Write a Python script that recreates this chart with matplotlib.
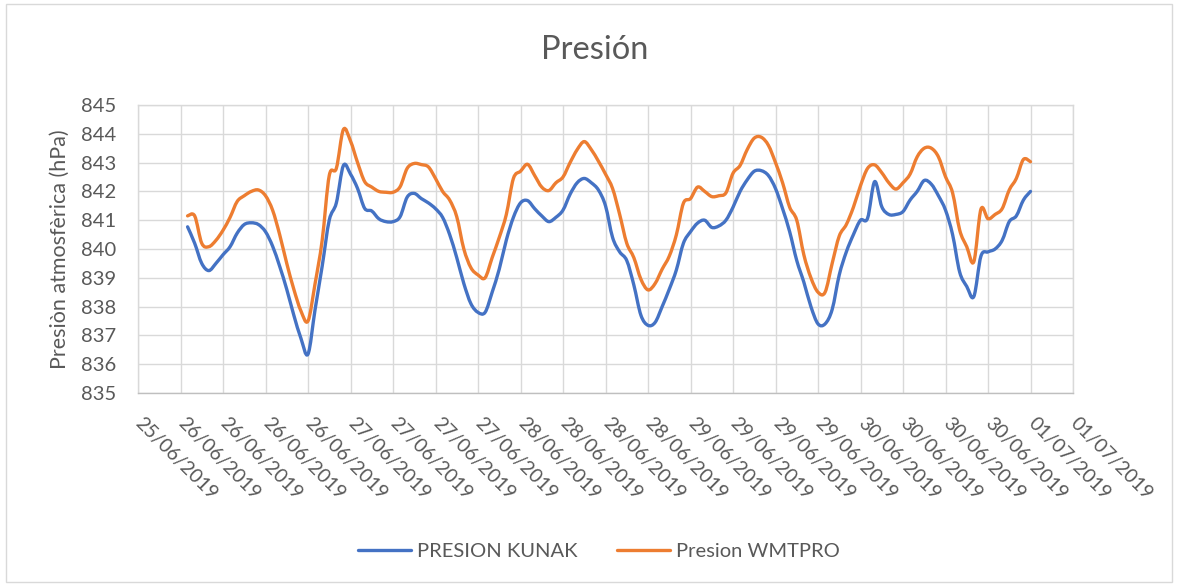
import matplotlib
matplotlib.use("Agg")
import matplotlib.pyplot as plt
import matplotlib.dates as mdates
import numpy as np
import pandas as pd
from matplotlib.patches import Rectangle, PathPatch
from matplotlib.path import Path
from matplotlib.lines import Line2D

# ---- data (hourly readings, 26/06/2019 01:00 -> 01/07/2019 00:00) ----
start_time = "2019-06-26 01:00"
presion_kunak = [
    840.77, 840.20, 839.50, 839.25, 839.50, 839.80, 840.08, 840.55, 840.85, 840.91,
    840.85, 840.60, 840.10, 839.40, 838.60, 837.70, 836.90, 836.35, 837.90, 839.40,
    841.00, 841.60, 842.90, 842.60, 842.10, 841.41, 841.32, 841.05, 840.95, 840.95,
    841.12, 841.80, 841.93, 841.75, 841.60, 841.40, 841.10, 840.50, 839.70, 838.80,
    838.10, 837.80, 837.80, 838.50, 839.30, 840.31, 841.10, 841.60, 841.68, 841.40,
    841.15, 840.95, 841.10, 841.35, 841.90, 842.30, 842.45, 842.30, 842.05, 841.50,
    840.40, 839.90, 839.60, 838.75, 837.70, 837.35, 837.45, 838.00, 838.60, 839.27,
    840.20, 840.60, 840.90, 841.00, 840.75, 840.80, 841.00, 841.45, 842.00, 842.40,
    842.70, 842.72, 842.55, 842.10, 841.40, 840.60, 839.60, 838.85, 838.00, 837.40,
    837.40, 837.90, 839.10, 839.90, 840.50, 841.00, 841.07, 842.34, 841.47, 841.20,
    841.20, 841.30, 841.70, 842.00, 842.38, 842.25, 841.85, 841.35, 840.50, 839.20,
    838.70, 838.35, 839.75, 839.90, 840.00, 840.30, 840.95, 841.15, 841.70, 842.00,
]
presion_wmtpro = [
    841.15, 841.15, 840.20, 840.08, 840.30, 840.65, 841.10, 841.65, 841.85, 842.00,
    842.05, 841.85, 841.35, 840.50, 839.50, 838.60, 837.85, 837.50, 838.80, 840.30,
    842.55, 842.80, 844.15, 843.75, 843.00, 842.34, 842.15, 842.00, 841.97, 841.97,
    842.16, 842.80, 842.97, 842.93, 842.85, 842.45, 842.00, 841.70, 841.12, 840.00,
    839.35, 839.10, 839.00, 839.70, 840.40, 841.20, 842.45, 842.70, 842.94, 842.55,
    842.15, 842.03, 842.30, 842.50, 843.00, 843.45, 843.73, 843.45, 843.05, 842.60,
    842.10, 841.20, 840.20, 839.70, 838.95, 838.58, 838.80, 839.30, 839.75, 840.49,
    841.59, 841.75, 842.15, 842.00, 841.82, 841.85, 841.95, 842.63, 842.90, 843.45,
    843.85, 843.88, 843.60, 843.00, 842.30, 841.45, 841.00, 839.80, 839.00, 838.50,
    838.50, 839.50, 840.45, 840.85, 841.45, 842.20, 842.80, 842.92, 842.65, 842.30,
    842.08, 842.30, 842.60, 843.20, 843.50, 843.50, 843.20, 842.51, 841.95, 840.66,
    840.08, 839.56, 841.38, 841.05, 841.20, 841.40, 842.05, 842.45, 843.11, 843.03,
]
series_names = ["PRESION KUNAK", "Presion WMTPRO"]
series_colors = ["#4472C4", "#ED7D31"]
title = "Presión"
ylabel = "Presiòn atmosfèrica (hPa)"
x_min, x_max = "2019-06-25 18:00", "2019-07-01 06:00"
y_min, y_max = 835, 845

times = pd.date_range(start_time, periods=len(presion_kunak), freq="h")

plt.rcParams["font.family"] = ["Lato", "DejaVu Sans"]
text_color = "#595959"
grid_color = "#D9D9D9"
LW = 2.4


def smooth_path(x, y):
    """Excel-like smoothed line: cubic Bezier segments through every data point."""
    pts = np.column_stack([x, y])
    n = len(pts)
    verts = [pts[0]]
    codes = [Path.MOVETO]
    for i in range(n - 1):
        p0 = pts[i - 1] if i > 0 else pts[i]
        p1 = pts[i]
        p2 = pts[i + 1]
        p3 = pts[i + 2] if i + 2 < n else pts[i + 1]
        c1 = p1 + (p2 - p0) / 6.0
        c2 = p2 - (p3 - p1) / 6.0
        verts += [c1, c2, p2]
        codes += [Path.CURVE4] * 3
    return Path(np.array(verts), codes)


fig = plt.figure(figsize=(11.79, 5.86), dpi=100)
ax = fig.add_axes([138 / 1179, 1 - 393 / 586, 935 / 1179, 288 / 586])

xnum = mdates.date2num(times.to_pydatetime())
handles = []
for vals, name, col in zip([presion_kunak, presion_wmtpro], series_names, series_colors):
    patch = PathPatch(smooth_path(xnum, np.asarray(vals)), facecolor="none",
                      edgecolor=col, lw=LW, capstyle="round", joinstyle="round")
    ax.add_patch(patch)
    handles.append(Line2D([], [], color=col, lw=LW, solid_capstyle="round", label=name))

ax.xaxis_date()
ax.set_xlim(pd.Timestamp(x_min), pd.Timestamp(x_max))
ax.set_ylim(y_min, y_max)
ax.set_yticks(np.arange(y_min, y_max + 1, 1))
ax.xaxis.set_major_locator(mdates.HourLocator(byhour=[0, 6, 12, 18]))
ax.xaxis.set_major_formatter(mdates.DateFormatter("%d/%m/%Y"))

ax.grid(True, color=grid_color, lw=1.0)
ax.set_axisbelow(True)
for name, sp in ax.spines.items():
    sp.set_color(grid_color)
    sp.set_linewidth(1.0)
ax.spines["bottom"].set_color("#BFBFBF")
ax.tick_params(axis="both", length=0, colors=text_color, labelsize=14)
ax.tick_params(axis="y", pad=16, labelsize=14.5)
ax.tick_params(axis="x", pad=20)
for lbl in ax.get_xticklabels():
    lbl.set_rotation(-45)
    lbl.set_ha("left")
    lbl.set_va("center")
    lbl.set_rotation_mode("anchor")

ax.set_ylabel(ylabel, fontsize=15.5, color=text_color, labelpad=8)
fig.text(595 / 1179, 1 - 50 / 586, title, ha="center", va="center",
         fontsize=23.5, color=text_color)

fig.legend(handles=handles, loc="center", bbox_to_anchor=(599 / 1179, 1 - 551 / 586),
           ncol=2, frameon=False, fontsize=14.5, handlelength=2.6, columnspacing=2.0,
           handletextpad=0.3, labelcolor=text_color)

fig.patches.append(Rectangle((6 / 1179, 4 / 586), 1166 / 1179, 578 / 586,
                             transform=fig.transFigure, fill=False,
                             edgecolor="#D9D9D9", lw=1.0))

fig.savefig("out.png", dpi=100)
